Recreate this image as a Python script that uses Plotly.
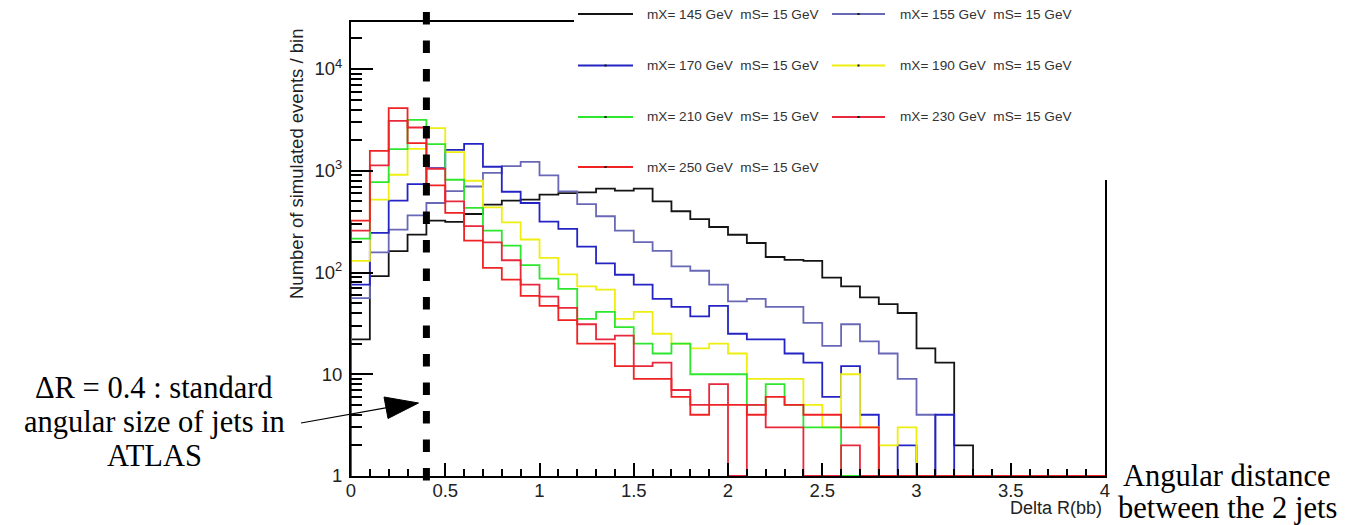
import plotly.graph_objects as go

# ---------------- data ----------------
BIN_WIDTH = 0.1
X_MIN, X_MAX = 0.0, 4.0
Y_MIN, Y_MAX = 1.0, 29000.0
CUT_DR = 0.4

MASS_LABELS = [
    "mX= 145 GeV  mS= 15 GeV",
    "mX= 155 GeV  mS= 15 GeV",
    "mX= 170 GeV  mS= 15 GeV",
    "mX= 190 GeV  mS= 15 GeV",
    "mX= 210 GeV  mS= 15 GeV",
    "mX= 230 GeV  mS= 15 GeV",
    "mX= 250 GeV  mS= 15 GeV",
]
COLORS = ["#141414", "#6868b6", "#2424c4", "#eeee10", "#2ee62e", "#e8283c", "#f02222"]

COUNTS_145 = [22, 92, 162, 236, 324, 314, 376, 464, 508, 520,
              582, 604, 613, 666, 637, 666, 500, 400, 335, 280,
              235, 195, 142, 133, 130, 89, 73, 57, 49, 40,
              18, 13, 2, 0, 0, 0, 0, 0, 0, 0]
COUNTS_155 = [56, 158, 264, 365, 482, 630, 700, 955, 1110, 1225,
              900, 627, 470, 357, 258, 199, 163, 115, 104, 76,
              52, 55, 46, 46, 32, 19, 31, 21, 16, 9,
              4, 0, 0, 0, 0, 0, 0, 0, 0, 0]
COUNTS_170 = [76, 245, 508, 740, 1060, 1607, 1840, 1095, 622, 482,
              316, 268, 180, 123, 95, 76, 55, 46, 37, 47,
              25, 22, 22, 16, 13, 6, 12, 4, 0, 2,
              0, 4, 0, 0, 0, 0, 0, 0, 0, 0]
COUNTS_190 = [130, 520, 914, 1644, 2620, 1525, 798, 437, 311, 211,
              139, 96, 73, 68, 35, 41, 25, 20, 18, 20,
              16, 9, 9, 9, 5, 3, 10, 3, 2, 3,
              0, 0, 0, 0, 0, 0, 0, 0, 0, 0]
COUNTS_210 = [215, 774, 1630, 3160, 1828, 816, 431, 258, 184, 118,
              87, 69, 35, 41, 29, 20, 16, 20, 10, 10,
              10, 5, 8, 5, 3, 3, 0, 0, 0, 0,
              0, 0, 0, 0, 0, 0, 0, 0, 0, 0]
COUNTS_230 = [258, 1128, 3090, 2660, 1047, 500, 285, 198, 132, 76,
              58, 45, 31, 22, 24, 12, 13, 7, 5, 8,
              0, 5, 3, 3, 0, 0, 2, 0, 0, 0,
              0, 0, 0, 0, 0, 0, 0, 0, 0, 0]
COUNTS_250 = [324, 1570, 4120, 1868, 718, 385, 206, 111, 85, 59,
              47, 34, 20, 20, 12, 9, 9, 6, 4, 5,
              5, 4, 6, 5, 4, 4, 3, 3, 0, 0,
              0, 0, 0, 0, 0, 0, 0, 0, 0, 0]
SERIES = [COUNTS_145, COUNTS_155, COUNTS_170, COUNTS_190, COUNTS_210, COUNTS_230, COUNTS_250]

X_TICK_VALS = [0, 0.5, 1, 1.5, 2, 2.5, 3, 3.5, 4]
X_TICK_TEXT = ["0", "0.5", "1", "1.5", "2", "2.5", "3", "3.5", "4"]
Y_TICK_VALS = [1, 10, 100, 1000, 10000]
Y_TICK_TEXT = ["1", "10", "10<sup>2</sup>", "10<sup>3</sup>", "10<sup>4</sup>"]

X_TITLE = "Delta R(bb)"
Y_TITLE = "Number of simulated events / bin"
NOTE_LEFT = ["\u0394R = 0.4 : standard", "angular size of jets in", "ATLAS"]
NOTE_RIGHT = ["Angular distance", "between the 2 jets"]

# ---------------- layout geometry (screen pixels) ----------------
SCREEN_W, SCREEN_H = 1345, 525
OFF = 8                      # page body margin in front of the figure
W, H = SCREEN_W - OFF, SCREEN_H - OFF
PL, PR, PT, PB = 351, 1105, 22, 476   # plot area on screen
PW, PH = PR - PL, PB - PT


def fx(px):
    return (px - PL) / PW


def fy(py):
    return (PB - py) / PH


SANS = "Liberation Sans, Arial, sans-serif"
SERIF = "Liberation Serif, Times New Roman, serif"

fig = go.Figure()

for counts, color, label in zip(SERIES, COLORS, MASS_LABELS):
    n = len(counts)
    left_edges = [X_MIN + i * BIN_WIDTH for i in range(n)]
    shown = [c if c > 0 else Y_MIN for c in counts]
    xs = [X_MIN] + left_edges + [X_MAX, X_MAX]
    ys = [Y_MIN] + shown + [shown[-1], Y_MIN]
    fig.add_trace(go.Scatter(
        x=xs, y=ys, mode="lines", name=label,
        line=dict(color=color, width=1.8, shape="hv"),
        showlegend=False, hoverinfo="skip",
    ))

shapes = []
annotations = []

# legend box covering the top-right of the frame
shapes.append(dict(type="rect", xref="paper", yref="paper", layer="above",
                   x0=fx(574), x1=fx(1112), y0=fy(180), y1=fy(0),
                   fillcolor="white", line=dict(width=0)))

ROW_Y = [14, 65.5, 117, 167]
COL_LINE = [(578, 633), (832, 885)]
COL_TEXT = [645, 898]
for i, (label, color) in enumerate(zip(MASS_LABELS, COLORS)):
    r, c = divmod(i, 2)
    y = ROW_Y[r]
    x0, x1 = COL_LINE[c]
    shapes.append(dict(type="line", xref="paper", yref="paper", layer="above",
                       x0=fx(x0), x1=fx(x1), y0=fy(y), y1=fy(y),
                       line=dict(color=color, width=2)))
    xm = (x0 + x1) / 2
    shapes.append(dict(type="rect", xref="paper", yref="paper", layer="above",
                       x0=fx(xm - 1), x1=fx(xm + 1), y0=fy(y + 1), y1=fy(y - 1),
                       fillcolor="#111", line=dict(width=0)))
    annotations.append(dict(xref="paper", yref="paper", x=fx(COL_TEXT[c]), y=fy(y),
                            xanchor="left", yanchor="middle", showarrow=False,
                            text=label.replace("  ", "\u00a0\u00a0"),
                            font=dict(family=SANS, size=13.6, color="#333")))

# dashed cut line at DeltaR = 0.4
shapes.append(dict(type="line", xref="x", yref="paper", layer="above",
                   x0=CUT_DR, x1=CUT_DR, y0=fy(12), y1=fy(481),
                   line=dict(color="black", width=7, dash="12.5px,16px")))

# arrow pointing to the cut line
shapes.append(dict(type="line", xref="paper", yref="paper", layer="above",
                   x0=fx(301), y0=fy(423), x1=fx(387), y1=fy(407.6),
                   line=dict(color="black", width=1.2)))
tri = "M {},{} L {},{} L {},{} Z".format(fx(418.5), fy(403), fx(384), fy(397), fx(388), fy(418.5))
shapes.append(dict(type="path", xref="paper", yref="paper", layer="above", path=tri,
                   fillcolor="black", line=dict(color="black", width=1)))

# axis titles
annotations.append(dict(xref="paper", yref="paper", x=fx(296), y=fy(164),
                        xanchor="center", yanchor="middle", textangle=-90, showarrow=False,
                        text=Y_TITLE, font=dict(family=SANS, size=18.5, color="#222")))
annotations.append(dict(xref="paper", yref="paper", x=fx(1104), y=fy(508),
                        xanchor="right", yanchor="middle", showarrow=False,
                        text=X_TITLE, font=dict(family=SANS, size=18, color="#222")))

# explanatory notes
for k, line in enumerate(NOTE_LEFT):
    annotations.append(dict(xref="paper", yref="paper", x=fx(154), y=fy(388 + 34 * k),
                            xanchor="center", yanchor="middle", showarrow=False,
                            text=line, font=dict(family=SERIF, size=30.5, color="black")))
for k, line in enumerate(NOTE_RIGHT):
    annotations.append(dict(xref="paper", yref="paper", x=fx(1227), y=fy(476 + 32 * k),
                            xanchor="center", yanchor="middle", showarrow=False,
                            text=line, font=dict(family=SERIF, size=30.5, color="black")))

y_minor = [m * d for d in Y_TICK_VALS for m in range(2, 10)]

fig.update_layout(
    width=W, height=H,
    margin=dict(l=PL - OFF, r=W - (PR - OFF), t=PT - OFF, b=H - (PB - OFF), pad=0),
    paper_bgcolor="white", plot_bgcolor="white",
    shapes=shapes, annotations=annotations,
    xaxis=dict(
        range=[X_MIN, X_MAX], showgrid=False, zeroline=False,
        showline=True, linecolor="black", linewidth=2, mirror=True,
        tickmode="array", tickvals=X_TICK_VALS, ticktext=X_TICK_TEXT,
        ticks="inside", ticklen=13, tickwidth=1.5, tickcolor="black",
        minor=dict(tickmode="linear", tick0=0, dtick=BIN_WIDTH, ticks="inside",
                   ticklen=7, tickwidth=1.5, tickcolor="black", showgrid=False),
        tickfont=dict(family=SANS, size=18.5, color="#222"),
        ticklabelstandoff=-3,
    ),
    yaxis=dict(
        type="log", range=[0, 4.462], showgrid=False, zeroline=False,
        showline=True, linecolor="black", linewidth=2, mirror=True,
        tickmode="array", tickvals=Y_TICK_VALS, ticktext=Y_TICK_TEXT,
        ticks="inside", ticklen=22, tickwidth=1.5, tickcolor="black",
        minor=dict(tickmode="array", tickvals=y_minor, ticks="inside",
                   ticklen=11, tickwidth=1.5, tickcolor="black", showgrid=False),
        tickfont=dict(family=SANS, size=18.5, color="#222"),
        ticklabelstandoff=3,
    ),
)

fig.write_html("out.html")
